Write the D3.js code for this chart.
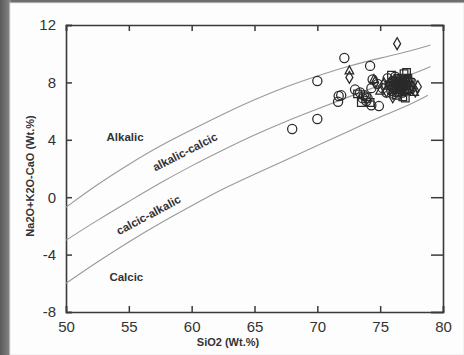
<!DOCTYPE html>
<html><head><meta charset="utf-8">
<script src="https://cdn.jsdelivr.net/npm/d3@7"></script>
<style>
html,body{margin:0;padding:0;background:#6b6b6b;}
svg{display:block;}
</style></head>
<body>
<svg id="chart" width="464" height="355"></svg>
<script>
// ---- data ----
const xTicks = [50, 55, 60, 65, 70, 75, 80];
const yTicks = [-8, -4, 0, 4, 8, 12];
const xTitle = "SiO2 (Wt.%)";
const yTitle = "Na2O+K2O-CaO (Wt.%)";

// boundary curves
const boundaryAlkalic = [[50,-0.7],[52.5,0.9],[55,2.3],[57.5,3.6],[60,4.7],[62.5,5.8],[65,6.8],[67.5,7.7],[70,8.45],[72.5,9.15],[75,9.7],[77.5,10.2],[79,10.6]];
const boundaryAlkaliCalcic = [[50,-3.0],[52.5,-1.6],[55,-0.3],[57.5,1.0],[60,2.2],[62.5,3.3],[65,4.35],[67.5,5.3],[70,6.15],[72.5,7.0],[75,7.8],[77.5,8.55],[79,9.1]];
const boundaryCalcic = [[50,-6.0],[52.5,-4.5],[55,-3.1],[57.5,-1.8],[60,-0.6],[62.5,0.6],[65,1.6],[67.5,2.6],[70,3.6],[72.5,4.6],[75,5.6],[77.5,6.5],[78.8,7.1]];

const regionLabels = ["Alkalic", "alkalic-calcic", "calcic-alkalic", "Calcic"];

const circles = [[68.0,4.75],[70.0,5.45],[70.0,8.1],[72.15,9.7],[74.2,9.15],[71.7,7.05],[71.65,6.65],[71.9,7.1],[73.0,7.5],[73.4,7.3],[73.6,6.9],[73.9,6.7],[74.3,6.4],[74.9,6.35],[74.3,7.6],[74.4,8.2],[74.8,7.9],[75.2,7.6],[75.5,7.3],[75.8,7.9],[76.0,8.1],[76.3,7.6],[76.5,8.0],[76.7,7.7],[76.9,8.2],[77.1,7.8],[77.3,7.5],[75.6,8.3],[76.2,8.4],[76.8,7.3],[77.5,8.0],[76.1,7.2],[76.0,7.7],[76.2,7.5],[76.4,7.8],[76.6,8.2],[76.8,7.6],[77.0,8.0],[77.2,7.6],[76.1,8.0],[76.3,8.2],[76.5,7.4],[76.7,7.9],[76.9,7.4],[77.1,8.1],[75.9,7.4],[76.4,8.0],[76.8,7.8],[73.7,7.1],[74.0,6.9]];
const squares = [[73.5,6.6],[73.9,7.0],[74.2,6.6],[73.2,7.2],[75.7,7.8],[76.0,7.5],[76.4,8.3],[76.6,7.9],[76.9,8.6],[77.1,8.7],[77.2,8.3],[77.0,7.5],[77.3,7.8],[76.3,7.1],[76.7,8.1],[77.0,6.9],[76.8,7.0],[75.9,8.5],[76.5,7.6],[77.4,8.0],[76.1,7.8],[76.3,7.6],[76.5,8.1],[76.7,7.5],[76.9,7.8],[77.1,7.4],[76.2,8.1],[76.6,7.7],[77.0,8.2],[76.4,7.3]];
const diamonds = [[76.35,10.7],[72.55,8.35],[78.0,7.7],[76.0,7.0],[75.5,7.4],[76.6,7.7],[75.3,7.9],[77.6,7.6],[74.6,8.0],[76.2,7.9],[77.8,7.4]];
const triangles = [[72.55,8.8],[74.5,8.2],[75.8,8.0],[76.4,7.5],[77.7,7.3],[76.9,7.9],[75.0,7.4],[77.3,8.2]];

// ---- drawing ----
const svg = d3.select("#chart");
const W = 464, H = 355;
const margin = {left: 66, right: 21, top: 25, bottom: 43};

// frame
const defs = svg.append("defs");
const grad = defs.append("linearGradient").attr("id","lg").attr("x1","0").attr("x2","1");
grad.append("stop").attr("offset","0").attr("stop-color","#5a5a5a");
grad.append("stop").attr("offset","1").attr("stop-color","#8a8a8a");
svg.append("rect").attr("x",0).attr("y",0).attr("width",W).attr("height",H).attr("fill","#6e6e6e");
svg.append("rect").attr("x",0).attr("y",0).attr("width",11).attr("height",H).attr("fill","url(#lg)");
svg.append("rect").attr("x",10).attr("y",3).attr("width",W-10).attr("height",H-3).attr("fill","#fdfdfd").attr("stroke","#e6e6e6");

const x = d3.scaleLinear().domain([50, 80]).range([margin.left, W - margin.right]);
const y = d3.scaleLinear().domain([-8, 12]).range([H - margin.bottom, margin.top]);

const axisColor = "#3a3a3a";
const g = svg.append("g");
const fmt = d => String(d);

// axes with inward ticks
const axB = g.append("g").attr("transform",`translate(0,${y(-8)})`)
  .call(d3.axisBottom(x).tickValues(xTicks).tickSize(-6).tickPadding(9).tickFormat(fmt));
const axT = g.append("g").attr("transform",`translate(0,${y(12)})`)
  .call(d3.axisTop(x).tickValues(xTicks).tickSize(-6).tickFormat(""));
const axL = g.append("g").attr("transform",`translate(${x(50)},0)`)
  .call(d3.axisLeft(y).tickValues(yTicks).tickSize(-6).tickPadding(9).tickFormat(fmt));
const axR = g.append("g").attr("transform",`translate(${x(80)},0)`)
  .call(d3.axisRight(y).tickValues(yTicks).tickSize(-12).tickFormat(""));

[axB, axT, axL, axR].forEach(a => {
  a.select(".domain").attr("stroke", axisColor).attr("stroke-width", 1.6);
  a.selectAll(".tick line").attr("stroke", axisColor).attr("stroke-width", 1.5);
  a.selectAll("text").attr("fill", "#333").attr("font-family", "Liberation Sans, Arial, sans-serif").attr("font-size", 15);
});
axL.selectAll("text").attr("dx", "-1");
axB.selectAll("text").attr("dy", "0.75em");

// boundary curves
const line = d3.line().x(d => x(d[0])).y(d => y(d[1])).curve(d3.curveBasis);
[boundaryAlkalic, boundaryAlkaliCalcic, boundaryCalcic].forEach(b => {
  g.append("path").datum(b).attr("d", line).attr("fill","none").attr("stroke","#9a9a9a").attr("stroke-width",1.1);
});

// region labels
const lblFamily = "Liberation Sans, Arial, sans-serif";
function label(text, sx, sy, rot) {
  g.append("text").attr("transform",`translate(${x(sx)},${y(sy)}) rotate(${rot})`)
    .attr("text-anchor","middle").attr("dominant-baseline","middle")
    .attr("font-family", lblFamily).attr("font-size", 11.5).attr("font-weight","bold")
    .attr("fill","#333").text(text);
}
label(regionLabels[0], 54.7, 4.1, 0);
label(regionLabels[1], 59.5, 3.1, -27);
label(regionLabels[2], 56.6, -1.3, -28);
label(regionLabels[3], 54.8, -5.6, 0);

// markers
const mk = g.append("g").attr("fill","none").attr("stroke","#2a2a2a").attr("stroke-width",1.25);
const sym = (type, size) => d3.symbol().type(type).size(size)();
function plot(data, path) {
  mk.selectAll(null).data(data).enter().append("path")
    .attr("d", path).attr("transform", d => `translate(${x(d[0])},${y(d[1])})`);
}
plot(circles, sym(d3.symbolCircle, 66));
plot(squares, sym(d3.symbolSquare, 58));
plot(diamonds, "M0,-6L3.5,0L0,6L-3.5,0Z");
plot(triangles, "M0,-5L4.3,3L-4.3,3Z");

// titles
g.append("text").attr("x", 228).attr("y", 346)
  .attr("text-anchor","middle").attr("font-family", lblFamily)
  .attr("font-size",11).attr("font-weight","bold").attr("fill","#333").text(xTitle);
g.append("text").attr("transform","translate(34,176) rotate(-90)")
  .attr("text-anchor","middle").attr("font-family", lblFamily)
  .attr("font-size",11).attr("font-weight","bold").attr("fill","#333").text(yTitle);
</script>
</body></html>
